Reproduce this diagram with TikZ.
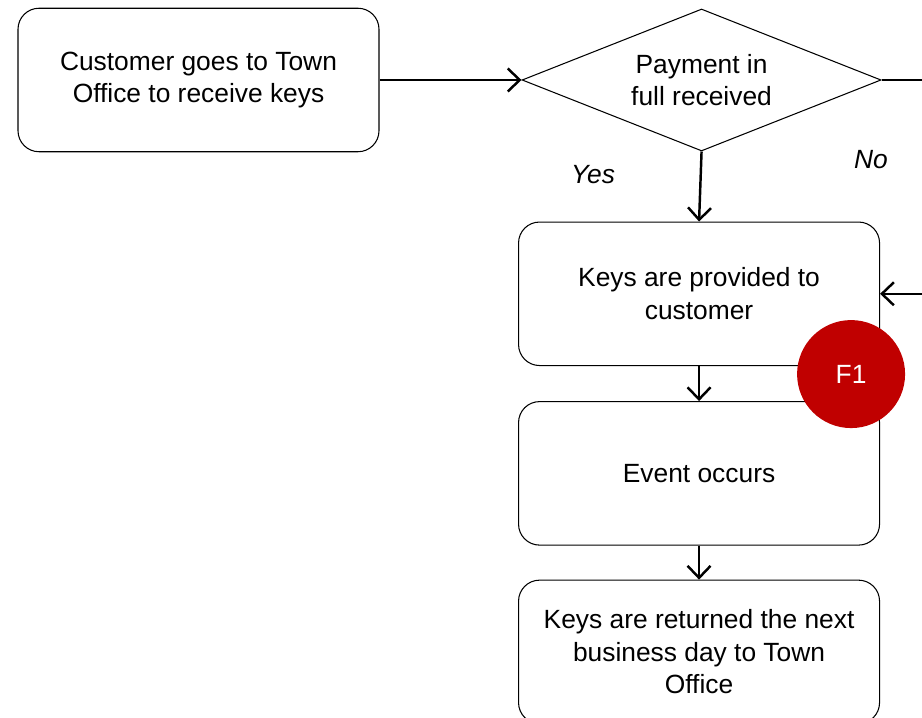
\documentclass[tikz,border=0pt]{standalone}
\usepackage{fontspec}
\setmainfont{Liberation Sans}
\usepackage{tikz}
\usepackage{xcolor}
\usetikzlibrary{arrows.meta,positioning,calc,shapes.geometric}
\definecolor{FindRed}{RGB}{192,0,0}

\begin{document}
\begin{tikzpicture}[node distance=0.7cm,
  every node/.style={font=\fontsize{15pt}{18.5pt}\selectfont, align=center},
  stepbox/.style={draw, rounded corners=0.42cm, line width=0.6pt, minimum width=7.22cm, minimum height=2.87cm},
  decision/.style={draw, diamond, aspect=2.53, line width=0.6pt, inner sep=0pt, minimum width=7.18cm, minimum height=2.84cm},
  flow/.style={-{Straight Barb[length=2.4mm,width=4.6mm]}, line width=1.4pt}]
\useasboundingbox (0,0) rectangle (18.44,-14.36);
\clip (0,0) rectangle (18.44,-14.36);
\node[stepbox] (cust) at (3.97,-1.6) {Customer goes to Town\\Office to receive keys};
\node[decision, right=2.84cm of cust] (pay) {Payment in\\full received};
\node[stepbox, below=1.4cm of pay, xshift=-0.05cm] (keys) {Keys are provided to\\customer};
\node[stepbox, below=of keys] (event) {Event occurs};
\node[stepbox, below=0.68cm of event] (ret) {Keys are returned the next\\business day to Town\\Office};
\node[circle, fill=FindRed, text=white, minimum size=2.16cm, inner sep=0pt] (f1) at ($(keys.south east)+(-0.58,-0.16)$) {F1};

\node[font=\fontsize{15pt}{18pt}\selectfont\itshape] (yes) at (11.86,-3.5) {Yes};
\node[font=\fontsize{15pt}{18pt}\selectfont\itshape] (no) at (17.42,-3.2) {No};
\coordinate (nobend) at ($(keys.east)+(1.4,0)$);

\draw[flow] (cust) -- (pay);
\draw[flow] (pay.south) -- (keys.north);
\draw[flow] (keys) -- (event);
\draw[flow] (event) -- (ret);
\draw[flow] (pay.east) -| (nobend) -- (keys.east);
\end{tikzpicture}
\end{document}
